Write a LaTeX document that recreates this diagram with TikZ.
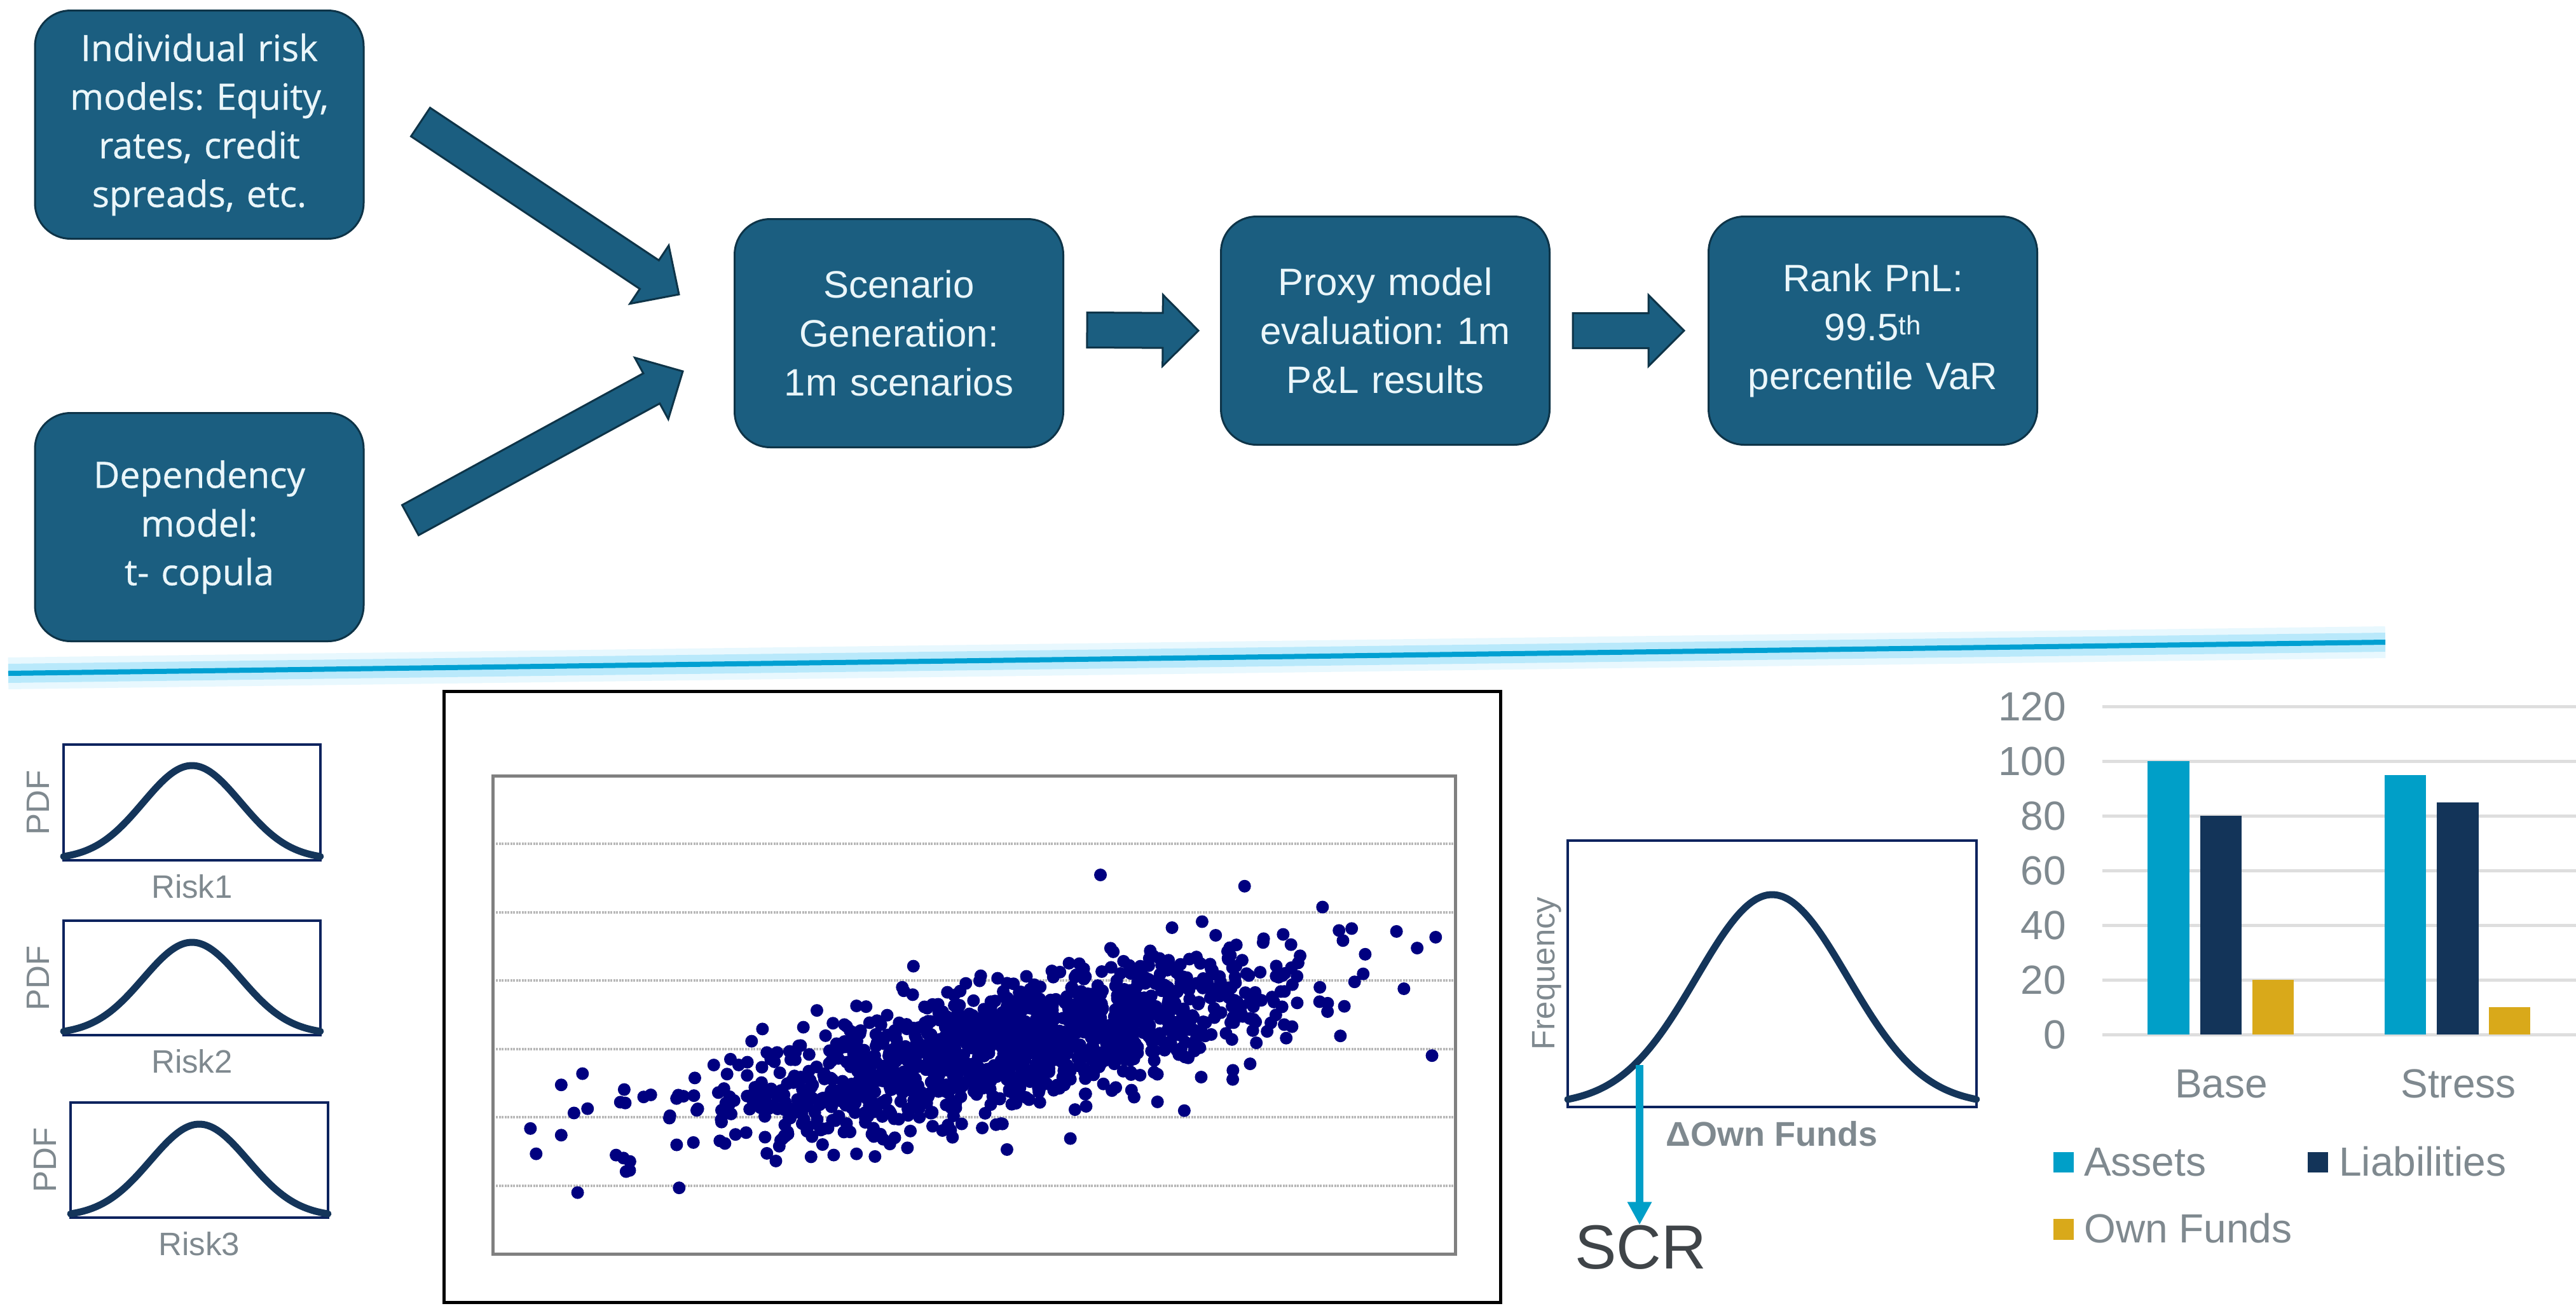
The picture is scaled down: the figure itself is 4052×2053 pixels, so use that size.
\documentclass[tikz,border=0pt]{standalone}
\usepackage{fontspec}
\setmainfont{Open Sans}[FakeBold=0.6]
\newfontfamily\leftboxfont{Open Sans}[FakeBold=0.6]
\newfontfamily\chartfont{Liberation Sans}
\usetikzlibrary{calc,arrows.meta}
\definecolor{boxfill}{RGB}{27,94,128}
\definecolor{boxedge}{RGB}{14,52,72}
\definecolor{boxtext}{RGB}{234,246,250}
\definecolor{navyline}{RGB}{12,35,94}
\definecolor{curvecol}{RGB}{20,53,90}
\definecolor{labelgray}{RGB}{127,137,143}
\definecolor{scrgray}{RGB}{63,68,72}
\definecolor{cyanbar}{RGB}{0,159,200}
\definecolor{navybar}{RGB}{19,52,89}
\definecolor{goldbar}{RGB}{217,169,26}
\definecolor{gridgray}{RGB}{222,222,222}
\definecolor{dotnavy}{RGB}{0,0,128}
\definecolor{sepblue}{RGB}{0,160,210}
\definecolor{glowblue}{RGB}{140,220,250}
\frenchspacing
\newcommand\blockarrow[5]{%
  \coordinate (ba-t) at (#1);
  \coordinate (ba-p) at (#2);
  \coordinate (ba-h) at ($(ba-p)!#5!(ba-t)$);
  \filldraw[blockar] ($(ba-t)!#3!90:(ba-p)$) -- ($(ba-h)!#3!-90:(ba-t)$) -- ($(ba-h)!#4!-90:(ba-t)$) -- (ba-p)
    -- ($(ba-h)!#4!90:(ba-t)$) -- ($(ba-h)!#3!90:(ba-t)$) -- ($(ba-t)!#3!-90:(ba-p)$) -- cycle;}
\newcommand\riskpdf[8]{%
  \draw[pdfbox] (#2,#3) rectangle (#4,#5);
  \draw[pdfcurve] plot[domain=-1:1,samples=61,smooth]
    ({(#2+#4)/2+(\x)*(#4-#2)/2},{#6-#7*(exp(-(\x)*(\x)/0.2888)-0.0313)/0.9687});
  \node[chart,anchor=base] (#1-lab) at ({(#2+#4)/2},{#5+59}) {#8};
  \node[chart,rotate=90] (#1-pdf) at ({#2-40},{(#3+#5)/2}) {PDF};}
\begin{document}
\begin{tikzpicture}[x=1pt,y=-1pt,
  flowbox/.style={draw=boxedge, line width=3pt, fill=boxfill, rounded corners=56pt,
    minimum width=517pt, minimum height=359pt, text=boxtext, align=center,
    inner sep=0pt, text width=500pt},
  leftbox/.style={flowbox, font=\leftboxfont\fontsize{57}{76.5}\selectfont},
  stepbox/.style={flowbox, font=\chartfont\fontsize{60}{77}\selectfont},
  blockar/.style={fill=boxfill, draw=boxedge, line width=3pt, line join=miter},
  chart/.style={font=\chartfont\fontsize{51}{60}\selectfont, text=labelgray, inner sep=0pt},
  barlab/.style={font=\chartfont\fontsize{64}{72}\selectfont, text=labelgray, inner sep=0pt},
  pdfbox/.style={draw=navyline, line width=4.5pt},
  pdfcurve/.style={draw=curvecol, line width=11pt, line cap=round},
  gridline/.style={draw=gridgray, line width=5pt},
  scatgrid/.style={draw=black!28, line width=4pt, dash pattern=on 3pt off 1.5pt},
]
\fill[white] (0,0) rectangle (4052,2053);
\useasboundingbox (0,0) rectangle (4052,2053);

% ---------- flow boxes ----------
\node[leftbox] (b1) at (313.5,196) {Individual risk\\models: Equity,\\rates, credit\\spreads, etc.};
\node[leftbox] (b2) at (313.5,829) {Dependency\\model:\\t- copula};
\node[stepbox] (scen) at (1414,524) {Scenario\\Generation:\\1m scenarios};
\node[stepbox] (proxy) at (2179,520) {Proxy model\\evaluation: 1m\\P\&L results};
\node[stepbox] (rank) at (2946,520) {Rank PnL:\\99.5\textsuperscript{th}\\percentile VaR};

\blockarrow{$(b1.east)+(88,-4)$}{$(scen.west)+(-86,-61)$}{27pt}{55pt}{56pt}
\blockarrow{$(b2.east)+(72,-11)$}{$(scen.west)+(-80,60)$}{27pt}{55pt}{56pt}
\blockarrow{$(scen.east)+(36,-5)$}{$(proxy.west)+(-34,0)$}{27.5pt}{56pt}{56pt}
\blockarrow{$(proxy.east)+(35,0)$}{$(rank.west)+(-37,0)$}{27.5pt}{56pt}{56pt}

% ---------- separator ----------
\coordinate (sepL) at (13,1059);
\coordinate (sepR) at (3752,1010);
\draw[glowblue, line width=50pt, opacity=0.2] (sepL) -- (sepR);
\draw[glowblue, line width=30pt, opacity=0.5] (sepL) -- (sepR);
\draw[sepblue, line width=8pt] (sepL) -- (sepR);

% ---------- risk PDFs ----------
\riskpdf{r1}{100}{1171}{504}{1353}{1347}{143}{Risk1}
\riskpdf{r2}{100}{1448}{504}{1628}{1622}{140}{Risk2}
\riskpdf{r3}{111}{1734}{516}{1915}{1909}{141}{Risk3}

% ---------- scatter ----------
\draw[black, line width=5pt] (698,1087) rectangle (2360,2048);
\foreach \k in {1,...,6}{
  \draw[scatgrid] (780,{1220+107.43*\k}) -- (2287,{1220+107.43*\k});
}
\begin{scope}
\clip (775,1220) rectangle (2289,1972);
\pgfmathsetseed{7}
\foreach \i in {1,...,1300}{
  \pgfmathsetmacro\ua{0.0001+0.9998*rnd}
  \pgfmathsetmacro\ub{rnd}
  \pgfmathsetmacro\rr{sqrt(-2*ln(\ua))}
  \pgfmathsetmacro\px{1580+235*\rr*cos(360*\ub)}
  \pgfmathsetmacro\py{1649-0.22*(\px-1580)+52*\rr*sin(360*\ub)}
  \fill[dotnavy] (\px,\py) circle (10);
}
\end{scope}
\fill[dotnavy] (1731,1376) circle (10);
\draw[black!50, line width=5pt] (775,1220) rectangle (2289,1972);

% ---------- frequency / SCR ----------
\draw[pdfbox] (2466,1322) rectangle (3109,1741);
\draw[pdfcurve] plot[domain=-1:1,samples=81,smooth]
  ({2787.5+(\x)*321.5},{1729-322*(exp(-(\x)*(\x)/0.274)-0.026)/0.974});
\node[chart,rotate=90] (freq) at (2433,1531) {Frequency};
\node[chart,anchor=base,font=\chartfont\bfseries\fontsize{54}{60}\selectfont] (dof) at (2787,1802) {ΔOwn Funds};
\node[anchor=base, inner sep=0pt, text=scrgray, font=\chartfont\fontsize{98}{110}\selectfont] (scr) at (2581,1995) {SCR};
\coordinate (scrtop) at (2579,1675);
\draw[cyanbar, line width=12pt, -{Triangle[width=36pt,length=36pt]}] (scrtop) -- (scrtop |- scr.north);

% ---------- bar chart ----------
\foreach \v in {0,20,...,120}{
  \draw[gridline] (3307,{1627-4.3*\v}) -- (4052,{1627-4.3*\v});
  \node[barlab,anchor=east] at (3250,{1627-4.3*\v}) {\v};
}
\fill[cyanbar] (3378,1627) rectangle (3444,{1627-4.3*100});
\fill[navybar] (3461,1627) rectangle (3526,{1627-4.3*80});
\fill[goldbar] (3543,1627) rectangle (3608,{1627-4.3*20});
\fill[cyanbar] (3751,1627) rectangle (3816,{1627-4.3*95});
\fill[navybar] (3833,1627) rectangle (3899,{1627-4.3*85});
\fill[goldbar] (3915,1627) rectangle (3980,{1627-4.3*10});
\node[barlab,anchor=base] (base) at (3494,1726) {Base};
\node[barlab,anchor=base] (stress) at (3867,1726) {Stress};
\fill[cyanbar] (3230,1812) rectangle (3262,1844);
\node[barlab,anchor=base west] (lga) at (3278,1849) {Assets};
\fill[navybar] (3630,1812) rectangle (3662,1844);
\node[barlab,anchor=base west] (lgl) at (3679,1849) {Liabilities};
\fill[goldbar] (3230,1917) rectangle (3262,1950);
\node[barlab,anchor=base west] (lgo) at (3278,1954) {Own Funds};
\end{tikzpicture}
\end{document}
